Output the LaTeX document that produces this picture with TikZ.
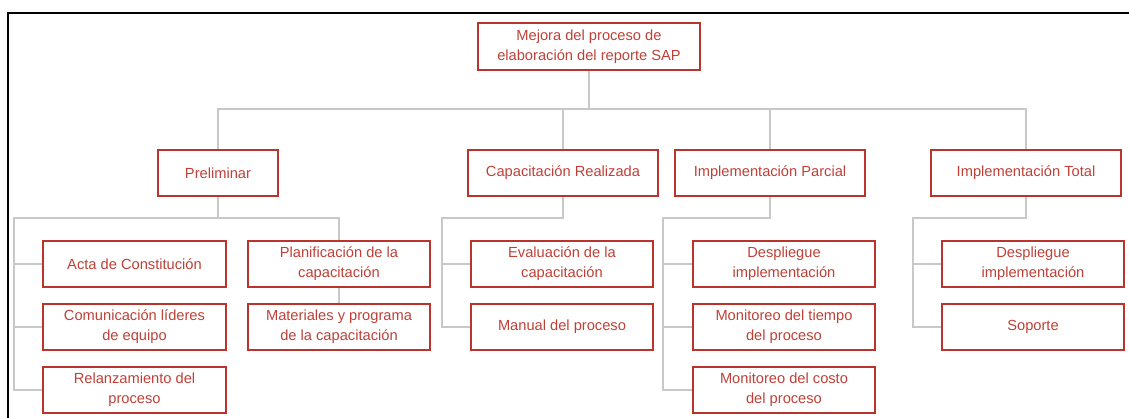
\documentclass[tikz,border=0pt]{standalone}
\usepackage{fontspec}
\setmainfont{Liberation Sans}
\definecolor{boxred}{RGB}{185,52,44}
\definecolor{textred}{RGB}{190,64,56}
\definecolor{linkgray}{RGB}{200,200,200}

\begin{document}
\begin{tikzpicture}[x=0.75pt, y=-0.75pt,
    box/.style={draw=boxred, line width=1.7pt, text=textred, align=center,
        inner sep=0pt, minimum height=34.5pt,
        font=\fontsize{11}{15}\selectfont},
    kid/.style={box, minimum width=137pt},
    link/.style={draw=linkgray, line width=1.9pt}]
    \useasboundingbox (0,0) rectangle (1129,418);
    % frame
    \draw [line width=1.6pt] (8,418) --  (8,13) --  (1129,13);

    % root and first level
    \node [box, minimum width=166pt, minimum height=35pt] (root) at (589,46.5)
        {Mejora del proceso de\\elaboración del reporte SAP};
    \node [box, minimum width=90pt]  (pre)  at (218,173)  {Preliminar};
    \node [box, minimum width=142pt] (cap)  at (563,173)  {Capacitación Realizada};
    \node [box, minimum width=142pt] (ipar) at (770,173)  {Implementación Parcial};
    \node [box, minimum width=142pt] (itot) at (1026,173) {Implementación Total};

    % second level
    \node [kid] (acta)  at (134.5,264) {Acta de Constitución};
    \node [kid] (comu)  at (134.5,327) {Comunicación líderes\\de equipo};
    \node [kid] (rel)   at (134.5,390) {Relanzamiento del\\proceso};
    \node [kid] (plan)  at (339,264)   {Planificación de la\\capacitación};
    \node [kid] (mat)   at (339,327)   {Materiales y programa\\de la capacitación};
    \node [kid] (eval)  at (562,264)   {Evaluación de la\\capacitación};
    \node [kid] (man)   at (562,327)   {Manual del proceso};
    \node [kid] (desp)  at (784,264)   {Despliegue\\implementación};
    \node [kid] (mtie)  at (784,327)   {Monitoreo del tiempo\\del proceso};
    \node [kid] (mcos)  at (784,390)   {Monitoreo del costo\\del proceso};
    \node [kid] (despt) at (1033,264)  {Despliegue\\implementación};
    \node [kid] (sop)   at (1033,327)  {Soporte};

    % buses
    \coordinate (bus) at (0,109);
    \coordinate (sub) at (0,218);
    \coordinate (lp)  at (14,218);
    \coordinate (lc)  at (442,218);
    \coordinate (lip) at (663,218);
    \coordinate (lit) at (913,218);

    % first level links
    \draw [link] (root.south) --  (root |- bus) -| (pre.north)
        (root |- bus) -| (itot.north)
        (cap.north) --  (cap |- bus)
        (ipar.north) --  (ipar |- bus);
    % second level links
    \draw [link] (pre.south) --  (pre |- sub) -| (plan.north)
        (pre |- sub) --  (lp) |- (acta.west)
        (lp) |- (comu.west)
        (lp) |- (rel.west)
        (plan.south) --  (mat.north);
    \draw [link] (cap.south) --  (cap |- sub) --  (lc) |- (eval.west)
        (lc) |- (man.west);
    \draw [link] (ipar.south) --  (ipar |- sub) --  (lip) |- (desp.west)
        (lip) |- (mtie.west)
        (lip) |- (mcos.west);
    \draw [link] (itot.south) --  (itot |- sub) --  (lit) |- (despt.west)
        (lit) |- (sop.west);
\end{tikzpicture}
\end{document}
